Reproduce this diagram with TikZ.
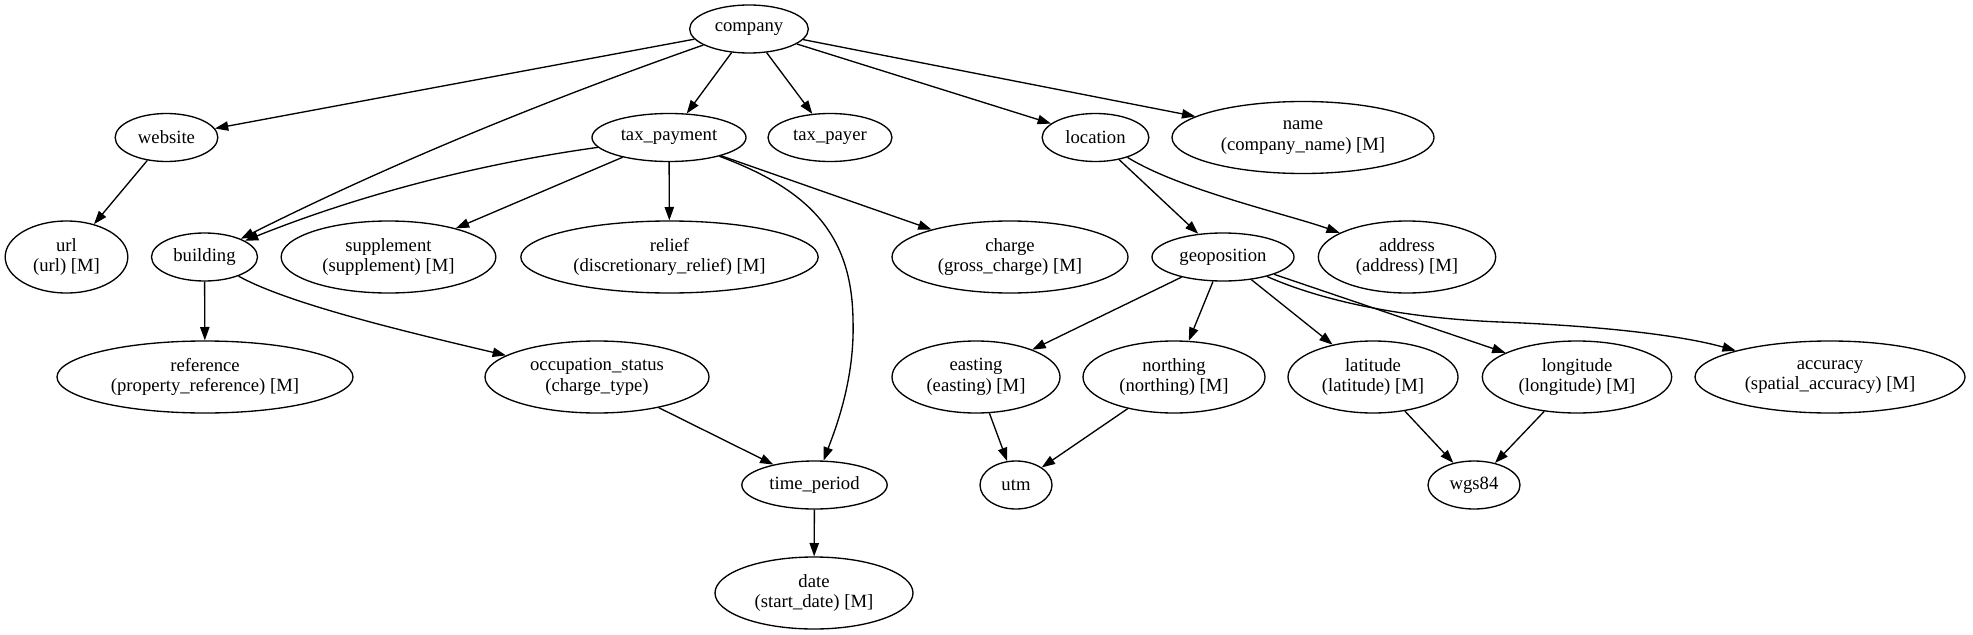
\documentclass[tikz,border=0pt]{standalone}
\usepackage{fontspec}
\setmainfont{Liberation Serif}
\usetikzlibrary{arrows.meta,shapes.geometric}
\begin{document}
\begin{tikzpicture}[x=0.75pt,y=-0.75pt,
  nd/.style={draw,ellipse,inner sep=0pt,line width=1pt,
    font=\fontsize{14}{15.5}\selectfont,align=center,
    minimum height=36pt,minimum width=#1},
  two/.style={minimum height=54pt},
  conn/.style={line width=1pt,-{Triangle[length=10pt,width=7pt]}}]
\fill[white] (0,0) rectangle (1973,635);
\useasboundingbox (0,0) rectangle (1973,635);

% rank 0
\node[nd=89pt] (company) at (749,29) {company};
% rank 1
\node[nd=77pt] (website) at (166.5,137.5) {website};
\node[nd=115.5pt] (taxpayment) at (669,137.5) {tax\_payment};
\node[nd=93pt] (taxpayer) at (830,137.5) {tax\_payer};
\node[nd=80pt] (location) at (1095.5,137.5) {location};
\node[nd=196.5pt,two] (name) at (1303,137.5) {name\\(company\_name) [M]};
% rank 2
\node[nd=92pt,two] (url) at (66.5,257) {url\\(url) [M]};
\node[nd=79.5pt] (building) at (204.5,257) {building};
\node[nd=161pt,two] (supplement) at (388.5,257) {supplement\\(supplement) [M]};
\node[nd=223pt,two] (relief) at (669.5,257) {relief\\(discretionary\_relief) [M]};
\node[nd=177pt,two] (charge) at (1010,257) {charge\\(gross\_charge) [M]};
\node[nd=106.5pt] (geoposition) at (1223,257) {geoposition};
\node[nd=133pt,two] (address) at (1407,257) {address\\(address) [M]};
% rank 3
\node[nd=222pt,two] (reference) at (205,377) {reference\\(property\_reference) [M]};
\node[nd=168pt,two] (occupation) at (597,377) {occupation\_status\\(charge\_type)};
\node[nd=126pt,two] (easting) at (976,377) {easting\\(easting) [M]};
\node[nd=136.5pt,two] (northing) at (1174,377) {northing\\(northing) [M]};
\node[nd=127.5pt,two] (latitude) at (1373,377) {latitude\\(latitude) [M]};
\node[nd=142pt,two] (longitude) at (1577,377) {longitude\\(longitude) [M]};
\node[nd=202.5pt,two] (accuracy) at (1830,377) {accuracy\\(spatial\_accuracy) [M]};
% rank 4
\node[nd=109pt] (timeperiod) at (814.5,485) {time\_period};
\node[nd=54pt] (utm) at (1016,485) {utm};
\node[nd=69pt] (wgs) at (1474,485) {wgs84};
% rank 5
\node[nd=148.5pt,two] (date) at (814,593) {date\\(start\_date) [M]};

% edges
\draw[conn] (company) -- (website);
\draw[conn] (company) .. controls (541,102) and (388,165) .. (building);
\draw[conn] (company) -- (taxpayment);
\draw[conn] (company) -- (taxpayer);
\draw[conn] (company) -- (location);
\draw[conn] (company) -- (name);
\draw[conn] (website) -- (url);
\draw[conn] (taxpayment) .. controls (478,164) and (359,195) .. (building);
\draw[conn] (taxpayment) -- (supplement);
\draw[conn] (taxpayment) -- (relief);
\draw[conn] (taxpayment) -- (charge);
\draw[conn] (taxpayment) .. controls (810,190) and (852,235) .. (853,320)
   .. controls (855,380) and (835,430) .. (timeperiod);
\draw[conn] (location) -- (geoposition);
\draw[conn] (location) .. controls (1180,190) and (1290,215) .. (address);
\draw[conn] (building) -- (reference);
\draw[conn] (building) .. controls (290,305) and (420,335) .. (occupation);
\draw[conn] (occupation) -- (timeperiod);
\draw[conn] (timeperiod) -- (date);
\draw[conn] (geoposition) -- (easting);
\draw[conn] (geoposition) -- (northing);
\draw[conn] (geoposition) -- (latitude);
\draw[conn] (geoposition) -- (longitude);
\draw[conn] (geoposition) .. controls (1320,300) and (1400,318) .. (1500,322)
   .. controls (1600,326) and (1680,335) .. (accuracy);
\draw[conn] (easting) -- (utm);
\draw[conn] (northing) -- (utm);
\draw[conn] (latitude) -- (wgs);
\draw[conn] (longitude) -- (wgs);
\end{tikzpicture}
\end{document}
